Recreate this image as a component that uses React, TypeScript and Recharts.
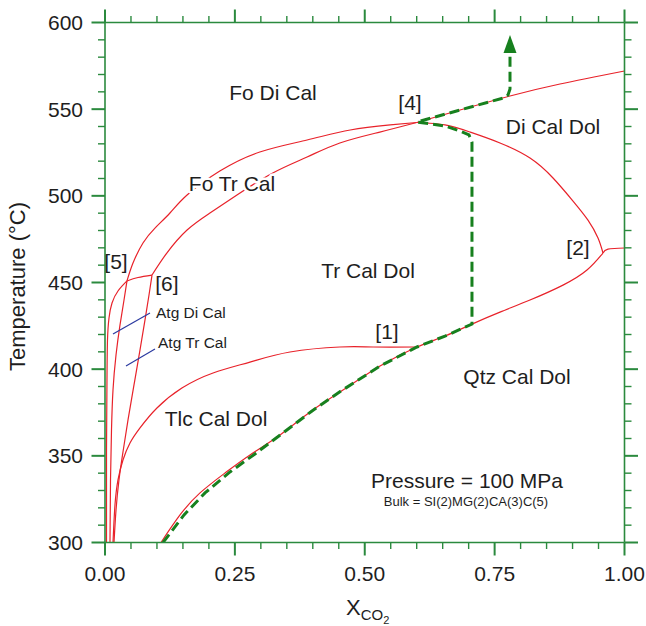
import { LineChart, Line, XAxis, YAxis, ReferenceDot } from 'recharts';

const RED = '#e8222a';
const GREEN = '#17801e';
const AXIS = '#2b8a3e';
const BLUE = '#2b3aa0';
const INK = '#1e1e1e';
const FONT = '"Liberation Sans", Arial, Helvetica, sans-serif';

const X_TICKS = [0, 0.05, 0.1, 0.15, 0.2, 0.25, 0.3, 0.35, 0.4, 0.45, 0.5, 0.55, 0.6, 0.65, 0.7, 0.75, 0.8, 0.85, 0.9, 0.95, 1];
const T_TICKS = [300, 310, 320, 330, 340, 350, 360, 370, 380, 390, 400, 410, 420, 430, 440, 450, 460, 470, 480, 490, 500, 510, 520, 530, 540, 550, 560, 570, 580, 590, 600];

// reaction curves: x = XCO2, t = temperature (°C)
const foDiToFoTr = [
  { x: 0.0423, t: 450.9 }, { x: 0.0539, t: 461.2 }, { x: 0.0731, t: 472.8 }, { x: 0.0962, t: 481.4 },
  { x: 0.125, t: 490.1 }, { x: 0.158, t: 500.5 }, { x: 0.221, t: 514.3 }, { x: 0.298, t: 525.3 },
  { x: 0.389, t: 532.2 }, { x: 0.472, t: 538.0 }, { x: 0.549, t: 540.9 }, { x: 0.6, t: 542.3 },
];
const foTrToTrDol = [
  { x: 0.0905, t: 454.3 }, { x: 0.119, t: 467.0 }, { x: 0.158, t: 480.3 }, { x: 0.202, t: 490.1 },
  { x: 0.254, t: 500.5 }, { x: 0.323, t: 513.2 }, { x: 0.389, t: 522.4 }, { x: 0.452, t: 530.5 },
  { x: 0.529, t: 536.8 }, { x: 0.6, t: 542.3 },
];
const link56 = [{ x: 0.0423, t: 450.9 }, { x: 0.0635, t: 452.9 }, { x: 0.0905, t: 454.3 }];
const atgDiLeft = [
  { x: 0.0423, t: 450.9 }, { x: 0.025, t: 445.1 }, { x: 0.0135, t: 438.2 }, { x: 0.0077, t: 429.5 },
  { x: 0.0048, t: 416.8 }, { x: 0.0038, t: 393.7 }, { x: 0.0029, t: 353.4 }, { x: 0.0029, t: 300 },
];
const atgDiRight = [
  { x: 0.0423, t: 450.9 }, { x: 0.0366, t: 439.9 }, { x: 0.0289, t: 425.5 }, { x: 0.0212, t: 408.2 },
  { x: 0.0154, t: 388.0 }, { x: 0.0125, t: 364.9 }, { x: 0.0106, t: 336.1 }, { x: 0.0096, t: 300 },
];
const atgTrRight = [
  { x: 0.0905, t: 454.3 }, { x: 0.0847, t: 442.8 }, { x: 0.077, t: 428.4 }, { x: 0.0674, t: 411.1 },
  { x: 0.0558, t: 390.9 }, { x: 0.0443, t: 370.7 }, { x: 0.0346, t: 352.2 }, { x: 0.0269, t: 336.1 },
  { x: 0.0212, t: 318.7 }, { x: 0.0173, t: 300 },
];
const tlcTop = [
  { x: 0.6006, t: 412.8 }, { x: 0.516, t: 412.8 }, { x: 0.452, t: 412.8 }, { x: 0.356, t: 409.9 },
  { x: 0.279, t: 404.1 }, { x: 0.208, t: 397.8 }, { x: 0.148, t: 389.1 }, { x: 0.1, t: 377.6 },
  { x: 0.0674, t: 366.1 }, { x: 0.0481, t: 357.4 }, { x: 0.0346, t: 347.6 }, { x: 0.025, t: 336.1 },
  { x: 0.0192, t: 321.6 }, { x: 0.0154, t: 300 },
];
const qtzTop = [
  { x: 0.1078, t: 300 }, { x: 0.1444, t: 315.9 }, { x: 0.1829, t: 328.6 }, { x: 0.231, t: 340.1 },
  { x: 0.2791, t: 350.5 }, { x: 0.3369, t: 362.0 }, { x: 0.3946, t: 375.3 }, { x: 0.4524, t: 386.8 },
  { x: 0.5294, t: 401.8 }, { x: 0.6006, t: 412.8 }, { x: 0.6545, t: 419.1 }, { x: 0.7064, t: 426.0 },
  { x: 0.7603, t: 432.9 }, { x: 0.8181, t: 439.9 }, { x: 0.8816, t: 448.5 }, { x: 0.9278, t: 457.2 },
  { x: 0.9586, t: 467.0 },
];
const beyond2 = [{ x: 0.9586, t: 467.0 }, { x: 0.9682, t: 469.3 }, { x: 1, t: 469.9 }];
const beyond4 = [
  { x: 0.6, t: 542.3 }, { x: 0.6834, t: 549.5 }, { x: 0.7796, t: 557.6 }, { x: 0.8758, t: 564.5 }, { x: 1, t: 572.0 },
];
const from4to2 = [
  { x: 0.6, t: 542.3 }, { x: 0.6545, t: 540.9 }, { x: 0.7026, t: 536.8 }, { x: 0.7603, t: 530.5 },
  { x: 0.8181, t: 521.8 }, { x: 0.8624, t: 510.3 }, { x: 0.9009, t: 497.0 }, { x: 0.9297, t: 486.0 },
  { x: 0.949, t: 475.7 }, { x: 0.9586, t: 467.0 },
];
const redCurves = [foDiToFoTr, foTrToTrDol, link56, atgDiLeft, atgDiRight, atgTrRight, tlcTop, qtzTop, beyond2, beyond4, from4to2];

// heating path followed by the bulk composition
const heatingPath = [
  { x: 0.1117, t: 300 }, { x: 0.1521, t: 315.9 }, { x: 0.1925, t: 328.6 }, { x: 0.2406, t: 340.7 },
  { x: 0.2887, t: 351.1 }, { x: 0.3426, t: 363.2 }, { x: 0.3985, t: 375.9 }, { x: 0.4543, t: 387.4 },
  { x: 0.5294, t: 401.8 }, { x: 0.6006, t: 412.8 }, { x: 0.6545, t: 419.1 }, { x: 0.7064, t: 426.0 },
  { x: 0.7064, t: 531.0 }, { x: 0.7007, t: 535.1 }, { x: 0.6834, t: 537.4 }, { x: 0.6545, t: 540.3 },
  { x: 0.6006, t: 542.6 }, { x: 0.6834, t: 549.5 }, { x: 0.7661, t: 556.4 }, { x: 0.7757, t: 558.2 },
  { x: 0.7796, t: 561.6 }, { x: 0.7796, t: 591.6 },
];

const atgDiLeader = [{ x: 0.0154, t: 420.3 }, { x: 0.0866, t: 432.4 }];
const atgTrLeader = [{ x: 0.0404, t: 401.8 }, { x: 0.0962, t: 411.6 }];

const fieldLabels = [
  { text: 'Fo Di Cal', x: 0.3234, t: 559.3 },
  { text: 'Fo Tr Cal', x: 0.2445, t: 506.8 },
  { text: 'Di Cal Dol', x: 0.8624, t: 539.7 },
  { text: 'Tr Cal Dol', x: 0.5063, t: 456.6 },
  { text: 'Qtz Cal Dol', x: 0.7931, t: 395.5 },
  { text: 'Tlc Cal Dol', x: 0.2137, t: 371.2 },
];
const pointLabels = [
  { text: '[1]', x: 0.5428, t: 421.4 },
  { text: '[2]', x: 0.9105, t: 469.9 },
  { text: '[4]', x: 0.5871, t: 553.5 },
  { text: '[5]', x: 0.0212, t: 461.8 },
  { text: '[6]', x: 0.1193, t: 449.1 },
];
const atgLabels = [
  { text: 'Atg Di Cal', x: 0.0982, t: 432.4 },
  { text: 'Atg Tr Cal', x: 0.102, t: 415.1 },
];
const pressureNote = { text: 'Pressure = 100 MPa', x: 0.6968, t: 335.5 };
const bulkNote = { text: 'Bulk = SI(2)MG(2)CA(3)C(5)', x: 0.6949, t: 323.4 };

const isMajorX = (v: number) => Math.abs(v * 4 - Math.round(v * 4)) < 1e-6;
const isMajorT = (v: number) => v % 50 === 0;

function BottomTick({ x, y, payload }: any) {
  const major = isMajorX(payload.value);
  return (
    <g>
      <line x1={x} x2={x} y1={y} y2={y + (major ? 13 : 6.5)} stroke={AXIS} strokeWidth={major ? 2 : 1.4} />
      {major && (
        <text x={x} y={y + 38} textAnchor="middle" fontSize={21} fill={INK} fontFamily={FONT}>
          {payload.value.toFixed(2)}
        </text>
      )}
    </g>
  );
}

function TopTick({ x, y, payload }: any) {
  const major = isMajorX(payload.value);
  return <line x1={x} x2={x} y1={y} y2={y - (major ? 13 : 6.5)} stroke={AXIS} strokeWidth={major ? 2 : 1.4} />;
}

function LeftTick({ x, y, payload }: any) {
  const major = isMajorT(payload.value);
  return (
    <g>
      <line x1={x} x2={x - (major ? 13.5 : 7)} y1={y} y2={y} stroke={AXIS} strokeWidth={major ? 2 : 1.4} />
      {major && (
        <text x={x - 22} y={y + 7.5} textAnchor="end" fontSize={21} fill={INK} fontFamily={FONT}>
          {payload.value}
        </text>
      )}
    </g>
  );
}

function RightTick({ x, y, payload }: any) {
  const major = isMajorT(payload.value);
  return <line x1={x} x2={x + (major ? 13.5 : 7)} y1={y} y2={y} stroke={AXIS} strokeWidth={major ? 2 : 1.4} />;
}

function XTitle({ viewBox }: any) {
  const cx = viewBox.x + viewBox.width / 2 + 3;
  return (
    <text x={cx} y={viewBox.y + 72} textAnchor="middle" fontSize={22} fill={INK} fontFamily={FONT}>
      <tspan>X</tspan>
      <tspan fontSize={15} dy={5}>CO</tspan>
      <tspan fontSize={11} dy={4}>2</tspan>
    </text>
  );
}

function YTitle({ viewBox }: any) {
  const cy = viewBox.y + viewBox.height / 2 + 4;
  return (
    <text transform={`translate(25, ${cy}) rotate(-90)`} textAnchor="middle" fontSize={22} fill={INK} fontFamily={FONT}>
      Temperature (°C)
    </text>
  );
}

// halo masks the curves running behind a field name, as in the original
function Tag({ cx, cy, text, size, anchor = 'middle', halo = false }: any) {
  return (
    <text
      x={cx} y={cy + size * 0.35} fontSize={size} textAnchor={anchor} fill={INK} fontFamily={FONT}
      stroke={halo ? '#fff' : 'none'} strokeWidth={halo ? 5 : 0} strokeLinejoin="round" paintOrder="stroke"
    >
      {text}
    </text>
  );
}

function renderTip(p: any) {
  if (p.index !== heatingPath.length - 1) return <g key={`d${p.index}`} />;
  return <path key="tip" d={`M${p.cx},${p.cy - 2} l-6.5,18 l13,0 z`} fill={GREEN} />;
}

export default function App() {
  return (
    <div style={{ position: 'absolute', left: 0, top: 0 }}>
      <LineChart width={646} height={626} margin={{ top: 0, right: 0, bottom: 0, left: 0 }} style={{ fontFamily: FONT }}>
        <XAxis
          xAxisId="b" dataKey="x" type="number" domain={[0, 1]} ticks={X_TICKS} interval={0}
          height={83.5} tickSize={0} tickMargin={0} tickLine={false} tick={<BottomTick />}
          axisLine={{ stroke: AXIS, strokeWidth: 1.6 }} allowDataOverflow
          label={{ content: (p: any) => <XTitle {...p} /> }}
        />
        <XAxis
          xAxisId="t" orientation="top" dataKey="x" type="number" domain={[0, 1]} ticks={X_TICKS} interval={0}
          height={22.5} tickSize={0} tickMargin={0} tickLine={false} tick={<TopTick />}
          axisLine={{ stroke: AXIS, strokeWidth: 1.6 }} allowDataOverflow
        />
        <YAxis
          yAxisId="l" type="number" domain={[300, 600]} ticks={T_TICKS} interval={0}
          width={105} tickSize={0} tickMargin={0} tickLine={false} tick={<LeftTick />}
          axisLine={{ stroke: AXIS, strokeWidth: 1.6 }} allowDataOverflow
          label={{ content: (p: any) => <YTitle {...p} /> }}
        />
        <YAxis
          yAxisId="r" orientation="right" type="number" domain={[300, 600]} ticks={T_TICKS} interval={0}
          width={21.5} tickSize={0} tickMargin={0} tickLine={false} tick={<RightTick />}
          axisLine={{ stroke: AXIS, strokeWidth: 1.6 }} allowDataOverflow
        />

        {redCurves.map((c, i) => (
          <Line
            key={`r${i}`} xAxisId="b" yAxisId="l" data={c} dataKey="t" type="natural"
            stroke={RED} strokeWidth={1.2} dot={false} isAnimationActive={false}
          />
        ))}
        {[atgDiLeader, atgTrLeader].map((c, i) => (
          <Line
            key={`b${i}`} xAxisId="b" yAxisId="l" data={c} dataKey="t" type="linear"
            stroke={BLUE} strokeWidth={1.2} dot={false} isAnimationActive={false}
          />
        ))}
        <Line
          xAxisId="b" yAxisId="l" data={heatingPath} dataKey="t" type="linear"
          stroke={GREEN} strokeWidth={3} strokeDasharray="10 5" dot={renderTip}
          isAnimationActive={false}
        />

        {fieldLabels.map((l) => (
          <ReferenceDot key={l.text} xAxisId="b" yAxisId="l" x={l.x} y={l.t} r={0}
            shape={(p: any) => <Tag cx={p.cx} cy={p.cy} text={l.text} size={21} halo />} />
        ))}
        {pointLabels.map((l) => (
          <ReferenceDot key={l.text} xAxisId="b" yAxisId="l" x={l.x} y={l.t} r={0}
            shape={(p: any) => <Tag cx={p.cx} cy={p.cy} text={l.text} size={21} />} />
        ))}
        {atgLabels.map((l) => (
          <ReferenceDot key={l.text} xAxisId="b" yAxisId="l" x={l.x} y={l.t} r={0}
            shape={(p: any) => <Tag cx={p.cx} cy={p.cy} text={l.text} size={15.5} anchor="start" />} />
        ))}
        <ReferenceDot xAxisId="b" yAxisId="l" x={pressureNote.x} y={pressureNote.t} r={0}
          shape={(p: any) => <Tag cx={p.cx} cy={p.cy} text={pressureNote.text} size={21} />} />
        <ReferenceDot xAxisId="b" yAxisId="l" x={bulkNote.x} y={bulkNote.t} r={0}
          shape={(p: any) => <Tag cx={p.cx} cy={p.cy} text={bulkNote.text} size={13} />} />
      </LineChart>
    </div>
  );
}
